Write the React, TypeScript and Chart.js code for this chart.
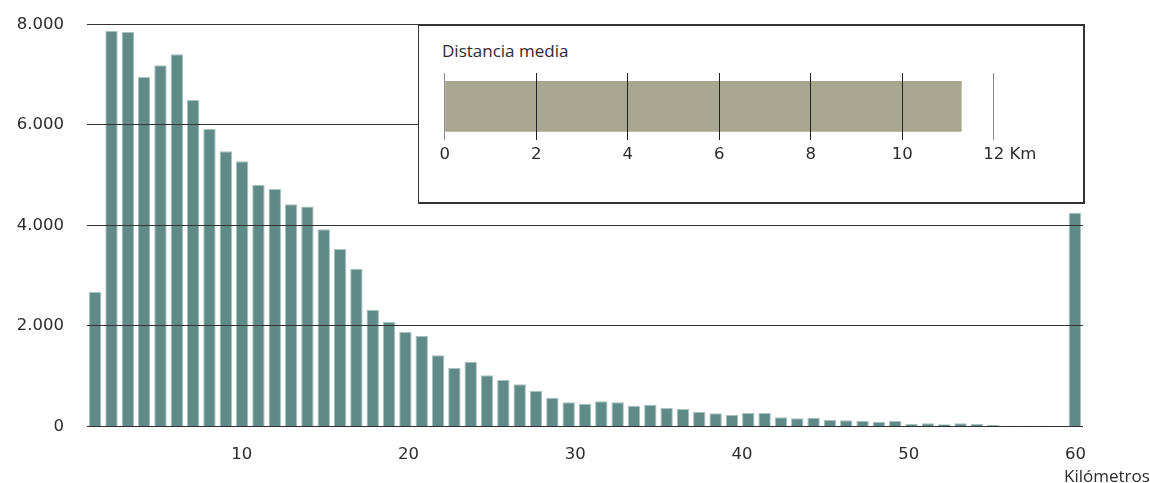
import React, { useEffect, useRef } from "react";
import { Chart, registerables } from "chart.js";

Chart.register(...registerables);

// Categories: 1..60 km bins plus the "60+" bin (labelled 60 on the axis)
const categories: string[] = [
  "1", "2", "3", "4", "5", "6", "7", "8", "9", "10",
  "11", "12", "13", "14", "15", "16", "17", "18", "19", "20",
  "21", "22", "23", "24", "25", "26", "27", "28", "29", "30",
  "31", "32", "33", "34", "35", "36", "37", "38", "39", "40",
  "41", "42", "43", "44", "45", "46", "47", "48", "49", "50",
  "51", "52", "53", "54", "55", "56", "57", "58", "59", "60", "60+",
];

const counts: number[] = [
  2675, 7868, 7849, 6953, 7186, 7405, 6495, 5918, 5474, 5275,
  4804, 4724, 4420, 4373, 3922, 3530, 3138, 2316, 2078, 1879,
  1799, 1415, 1162, 1288, 1017, 923, 837, 704, 571, 480,
  452, 499, 480, 412, 432, 366, 346, 293, 261, 227,
  267, 267, 181, 161, 174, 127, 121, 107, 94, 107,
  54, 61, 41, 61, 48, 28, 15, 15, 15, 10, 4253,
];

const xTickValues: number[] = [10, 20, 30, 40, 50, 60];
const xTickLabels: string[] = ["10", "20", "30", "40", "50", "60"];
const yTickValues: number[] = [0, 2000, 4000, 6000, 8000];
const yTickLabels: string[] = ["0", "2.000", "4.000", "6.000", "8.000"];
const xAxisTitle = "Kilómetros";

// Inset: average distance
const insetTitle = "Distancia media";
const insetCategories: string[] = ["Distancia media"];
const insetValues: number[] = [11.3];
const insetTickValues: number[] = [0, 2, 4, 6, 8, 10, 12];
const insetTickLabels: string[] = ["0", "2", "4", "6", "8", "10", "12"];
const insetUnit = "Km";

const FONT = "'Open Sans', 'Liberation Sans', Arial, sans-serif";
const NUMFONT = "'DejaVu Sans', 'Open Sans', Arial, sans-serif";
const FS = 17;
const NFS = 16.5;
const TEXT = "#2b2b2b";
const BAR = "#5f8a87";
const BAR_EDGE = "#a7c3c0";
const INSET_BAR = "#a9a68f";

export default function App() {
  const mainRef = useRef<HTMLCanvasElement | null>(null);
  const insetRef = useRef<HTMLCanvasElement | null>(null);

  useEffect(() => {
    if (!mainRef.current || !insetRef.current) return;

    const main = new Chart(mainRef.current, {
      type: "bar",
      data: {
        labels: categories,
        datasets: [
          {
            data: counts,
            backgroundColor: BAR,
            borderColor: BAR_EDGE,
            borderWidth: 1,
            barPercentage: 0.76,
            categoryPercentage: 1,
            xAxisID: "x",
            yAxisID: "y",
          },
        ],
      },
      options: {
        animation: false,
        responsive: false,
        maintainAspectRatio: false,
        layout: { padding: { left: 0, right: 67, top: 24.3, bottom: 0 } },
        plugins: { legend: { display: false }, tooltip: { enabled: false }, title: { display: false } },
        scales: {
          x: {
            type: "category",
            display: false,
            offset: true,
          },
          xl: {
            type: "linear",
            position: "bottom",
            min: 0.723,
            max: 60.45,
            offset: false,
            bounds: "data",
            grid: { display: false, drawTicks: false, offset: false },
            border: { display: false },
            afterBuildTicks: (axis: any) => {
              axis.ticks = xTickValues.map((v) => ({ value: v }));
            },
            afterFit: (axis: any) => {
              axis.height = 56.6;
              axis.paddingLeft = 0;
              axis.paddingRight = 0;
            },
            ticks: {
              padding: 18,
              color: TEXT,
              font: { family: NUMFONT, size: NFS },
              maxRotation: 0,
              autoSkip: false,
              callback: (v: any) => {
                const i = xTickValues.indexOf(Number(v));
                return i >= 0 ? xTickLabels[i] : "";
              },
            },
          },
          y: {
            type: "linear",
            min: 0,
            max: 8000,
            grid: { color: "#333333", lineWidth: 1, drawTicks: false, z: 1 },
            border: { display: false },
            afterBuildTicks: (axis: any) => {
              axis.ticks = yTickValues.map((v) => ({ value: v }));
            },
            afterFit: (axis: any) => {
              axis.width = 87;
              axis.paddingTop = 0;
              axis.paddingBottom = 0;
            },
            ticks: {
              padding: 23,
              color: TEXT,
              font: { family: NUMFONT, size: NFS },
              callback: (v: any) => {
                const i = yTickValues.indexOf(Number(v));
                return i >= 0 ? yTickLabels[i] : "";
              },
            },
          },
        },
      },
    } as any);

    const unitPlugin = {
      id: "unitLabel",
      afterDraw(chart: any) {
        const sc = chart.scales.x;
        const ctx = chart.ctx;
        const last = insetTickValues[insetTickValues.length - 1];
        const lastLabel = insetTickLabels[insetTickLabels.length - 1];
        ctx.save();
        ctx.font = `${NFS}px ${NUMFONT}`;
        ctx.fillStyle = TEXT;
        ctx.textAlign = "left";
        ctx.textBaseline = "middle";
        const px = sc.getPixelForValue(last) + ctx.measureText(lastLabel).width / 2 + ctx.measureText(" ").width;
        ctx.fillText(insetUnit, px, chart.chartArea.bottom + 15);
        ctx.restore();
      },
    };

    const inset = new Chart(insetRef.current, {
      type: "bar",
      data: {
        labels: insetCategories,
        datasets: [
          {
            data: insetValues,
            backgroundColor: INSET_BAR,
            borderWidth: 0,
            barPercentage: 0.76,
            categoryPercentage: 1,
          },
        ],
      },
      options: {
        indexAxis: "y",
        animation: false,
        responsive: false,
        maintainAspectRatio: false,
        layout: { padding: { left: 14.7, right: 56.3, top: 13, bottom: 0 } },
        plugins: { legend: { display: false }, tooltip: { enabled: false } },
        scales: {
          y: { type: "category", display: false },
          x: {
            type: "linear",
            min: 0,
            max: 12,
            grid: {
              drawTicks: false,
              lineWidth: 1,
              z: 1,
              color: (c: any) =>
                c.tick && (c.tick.value === 0 || c.tick.value === 12) ? "#8a8a8a" : "#222222",
            },
            border: { display: false },
            afterBuildTicks: (axis: any) => {
              axis.ticks = insetTickValues.map((v) => ({ value: v }));
            },
            afterFit: (axis: any) => {
              axis.height = 40.3;
              axis.paddingLeft = 0;
              axis.paddingRight = 0;
            },
            ticks: {
              padding: 5,
              color: TEXT,
              font: { family: NUMFONT, size: NFS },
              maxRotation: 0,
              autoSkip: false,
              callback: (v: any) => {
                const i = insetTickValues.indexOf(Number(v));
                return i >= 0 ? insetTickLabels[i] : "";
              },
            },
          },
        },
      },
      plugins: [unitPlugin],
    } as any);

    return () => {
      main.destroy();
      inset.destroy();
    };
  }, []);

  return (
    <div
      style={{
        position: "absolute",
        left: 0,
        top: 0,
        width: 1150,
        height: 483,
        background: "#ffffff",
        fontFamily: FONT,
        color: TEXT,
        overflow: "hidden",
      }}
    >
      <canvas
        ref={mainRef}
        width={1150}
        height={483}
        style={{ position: "absolute", left: 0, top: 0, width: 1150, height: 483 }}
      />
      <div
        style={{
          position: "absolute",
          left: 418,
          top: 24,
          width: 667,
          height: 180,
          boxSizing: "border-box",
          border: "2px solid #333333",
          borderLeftWidth: 1.5,
          background: "#ffffff",
        }}
      />
      <div
        style={{
          position: "absolute",
          left: 442,
          top: 41,
          fontSize: FS,
          lineHeight: "20px",
          whiteSpace: "nowrap",
        }}
      >
        {insetTitle}
      </div>
      <canvas
        ref={insetRef}
        width={620}
        height={120}
        style={{ position: "absolute", left: 430, top: 60, width: 620, height: 120 }}
      />
      <div
        style={{
          position: "absolute",
          left: 1064,
          top: 466,
          fontSize: FS,
          lineHeight: "20px",
          whiteSpace: "nowrap",
        }}
      >
        {xAxisTitle}
      </div>
    </div>
  );
}
